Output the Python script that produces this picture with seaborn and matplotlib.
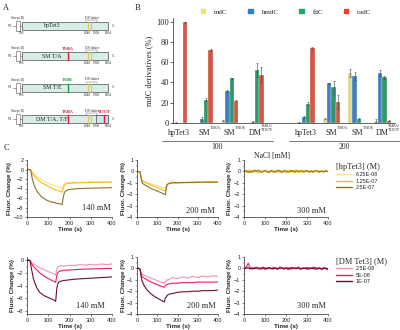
import numpy as np
import pandas as pd
import matplotlib
matplotlib.use('Agg')
import matplotlib.pyplot as plt
import matplotlib.transforms as mtransforms
from matplotlib.patches import Rectangle
from matplotlib.lines import Line2D
import seaborn as sns

# ---------------- data ----------------
# Panel A (construct schematics)
row_labels = ['hpTet3', 'SM T/A', 'SM T/E', 'DM T/A, T/F']
row_mutations = [[], [('T940A', 940)], [('T940E', 940)], [('T940A', 940), ('T1367F', 1367)]]
mut_colors = {'T940A': '#e0203a', 'T940E': '#1e9a4a', 'T1367F': '#e0203a'}
residue_marks = [696, 1040, 1308, 1604]

# Panel B (bar chart)
categories = ['hpTet3', 'SM', 'SM', 'DM']
superscripts = ['', 'T940A', 'T940E', 'T940A/\nT1367F']
salt_groups = ['100', '200']
derivatives = ['mdC', 'hmdC', 'fdC', 'cadC']
deriv_colors = ['#ece07c', '#2d7fd6', '#1fa86c', '#e8442c']
mdC_100 = [0.0, 0.0, 2.0, 0.0]
hmdC_100 = [0.3, 4.0, 32.0, 1.0]
fdC_100 = [0.0, 23.0, 44.0, 52.0]
cadC_100 = [99.2, 72.0, 22.0, 47.0]
mdC_200 = [0.5, 4.0, 49.0, 2.0]
hmdC_200 = [6.0, 39.0, 46.0, 49.0]
fdC_200 = [19.0, 35.0, 4.0, 45.0]
cadC_200 = [74.0, 21.0, 0.0, 2.0]
mdC_100_err = [0.0, 0.0, 0.5, 0.0]
hmdC_100_err = [0.5, 2.0, 1.0, 0.5]
fdC_100_err = [0.0, 1.5, 0.8, 7.0]
cadC_100_err = [0.8, 1.2, 0.8, 8.0]
mdC_200_err = [0.3, 0.5, 4.0, 1.5]
hmdC_200_err = [1.0, 0.5, 4.0, 3.0]
fdC_200_err = [1.5, 6.0, 0.5, 1.5]
cadC_200_err = [0.8, 7.0, 0.0, 0.5]

# Panel C (kinetic traces)
hp_conc = ['6.25E-08', '1.25E-07', '2.5E-07']
hp_colors = ['#fbe08e', '#f3be12', '#8a7329']
dm_conc = ['2.5E-08', '5E-08', '1E-07']
dm_colors = ['#f78fb3', '#e8205e', '#6a0f2e']

t_hp140 = [0, 10, 18, 25, 35, 50, 70, 90, 110, 130, 150, 165, 170, 175, 180, 190, 200, 220, 240, 260, 280, 300, 320, 340, 360, 380, 400]
hp140_low = [0, 0, -0.1, -0.6, -1.1, -1.6, -2.2, -2.7, -3.1, -3.4, -3.7, -3.9, -3.3, -3.0, -2.9, -2.75, -2.85, -2.6, -2.75, -2.6, -2.7, -2.55, -2.7, -2.5, -2.65, -2.5, -2.6]
hp140_mid = [0, 0, -0.1, -0.8, -1.4, -2.1, -2.8, -3.3, -3.8, -4.2, -4.5, -4.8, -4.0, -3.4, -3.1, -2.95, -2.9, -2.85, -2.8, -2.8, -2.75, -2.75, -2.7, -2.7, -2.7, -2.65, -2.7]
hp140_high = [0, 0, -0.2, -2.0, -3.5, -4.8, -5.8, -6.4, -6.8, -7.0, -7.2, -7.35, -6.0, -5.0, -4.6, -4.35, -4.2, -4.1, -4.05, -4.0, -3.95, -3.95, -3.9, -3.9, -3.85, -3.85, -3.8]

t_hp200 = [0, 10, 15, 20, 25, 35, 50, 70, 90, 110, 130, 140, 145, 150, 160, 175, 200, 225, 250, 275, 300, 325, 350, 375, 400]
hp200_low = [0.0, -0.05, 0.0, -0.5, -0.75, -0.85, -0.95, -1.1, -1.2, -1.3, -1.45, -1.5, -1.2, -1.1, -1.05, -0.8, -1.0, -0.95, -1.05, -0.85, -0.95, -1.0, -0.85, -0.95, -0.9]
hp200_mid = [0.0, 0.0, -0.05, -0.55, -0.85, -0.95, -1.05, -1.2, -1.35, -1.5, -1.65, -1.72, -1.3, -1.12, -1.05, -1.0, -1.0, -1.0, -0.95, -1.0, -0.95, -0.95, -0.95, -0.9, -0.95]
hp200_high = [0.0, -0.05, -0.05, -0.6, -1.0, -1.15, -1.3, -1.5, -1.65, -1.8, -1.95, -2.05, -1.4, -1.15, -1.05, -1.0, -1.0, -0.98, -0.97, -0.96, -0.95, -0.95, -0.95, -0.95, -0.95]

t_300 = [0, 10, 20, 30, 40, 50, 60, 70, 80, 90, 100, 110, 120, 130, 140, 150, 160, 170, 180, 190, 200,
         210, 220, 230, 240, 250, 260, 270, 280, 290, 300, 310, 320, 330, 340, 350, 360, 370, 380, 390, 400]
hp300_low = [0.05, 0.12, -0.05, 0.15, 0.02, -0.1, 0.1, 0.06, -0.06, 0.14, 0.0, -0.12, 0.08, -0.04, 0.12, 0.0, -0.14, 0.06, 0.1, -0.05, 0.02, 0.13, -0.08, 0.05, 0.0, -0.11, 0.1, 0.03, -0.06, 0.12, -0.02, 0.06, -0.1, 0.09, 0.0, -0.07, 0.11, -0.04, 0.06, 0.0, 0.04]
hp300_mid = [0.0, -0.08, 0.1, -0.12, 0.06, 0.14, -0.06, -0.15, 0.08, 0.0, 0.12, -0.08, -0.02, 0.1, -0.1, 0.06, 0.12, -0.08, 0.0, 0.1, -0.12, 0.04, 0.1, -0.06, 0.08, 0.12, -0.1, -0.02, 0.1, -0.08, 0.06, -0.12, 0.08, 0.0, 0.12, -0.06, -0.1, 0.08, -0.02, 0.1, -0.04]
hp300_high = [0.02, 0.06, -0.1, 0.04, -0.06, 0.08, 0.0, 0.1, -0.08, -0.04, 0.06, 0.02, -0.1, 0.06, 0.0, -0.06, 0.04, 0.08, -0.1, 0.02, 0.06, -0.06, 0.0, 0.08, -0.08, 0.04, 0.0, 0.06, -0.06, 0.02, 0.08, -0.04, 0.02, -0.08, 0.06, 0.04, -0.02, 0.0, -0.06, 0.04, -0.02]

t_dm140 = [0, 10, 15, 20, 30, 45, 60, 80, 100, 120, 130, 135, 140, 145, 150, 160, 175, 200, 225, 250, 275, 300, 325, 350, 375, 400]
dm140_low = [0, 0, -0.05, -0.3, -0.6, -0.9, -1.2, -1.5, -1.8, -2.1, -2.25, -2.35, -1.4, -1.1, -1.0, -0.85, -0.95, -0.8, -0.85, -0.7, -0.8, -0.65, -0.75, -0.6, -0.7, -0.6]
dm140_mid = [0, 0, -0.1, -0.5, -1.0, -1.5, -2.0, -2.5, -2.9, -3.25, -3.4, -3.5, -2.5, -2.0, -1.8, -1.7, -1.6, -1.55, -1.5, -1.45, -1.4, -1.4, -1.35, -1.35, -1.3, -1.3]
dm140_high = [0, 0, -0.2, -1.2, -2.9, -4.3, -5.1, -5.6, -5.9, -6.2, -6.35, -6.5, -4.5, -3.7, -3.45, -3.3, -3.2, -3.1, -3.0, -2.95, -2.9, -2.85, -2.8, -2.75, -2.7, -2.65]

t_dm200 = [0, 10, 15, 20, 25, 35, 50, 70, 90, 110, 125, 135, 140, 150, 160, 175, 200, 225, 250, 275, 300, 325, 350, 375, 400]
dm200_low = [0, 0, -0.05, -0.35, -0.5, -0.6, -0.7, -0.85, -1.0, -1.15, -1.25, -1.3, -1.15, -1.0, -0.95, -0.8, -0.9, -0.75, -0.85, -0.7, -0.8, -0.65, -0.75, -0.65, -0.7]
dm200_mid = [0, 0, -0.05, -0.45, -0.7, -0.85, -1.0, -1.2, -1.35, -1.5, -1.6, -1.65, -1.5, -1.4, -1.35, -1.3, -1.3, -1.25, -1.25, -1.25, -1.2, -1.2, -1.2, -1.2, -1.2]
dm200_high = [0, 0, -0.1, -0.7, -1.1, -1.5, -1.9, -2.25, -2.5, -2.7, -2.85, -2.95, -2.6, -2.35, -2.25, -2.2, -2.1, -2.05, -2.05, -2.0, -2.0, -1.95, -1.95, -1.95, -1.9]

dm300_low = [0.0, 0.05, 0.1, -0.05, 0.08, 0.0, -0.06, 0.1, 0.02, -0.08, 0.06, 0.1, -0.04, 0.04, -0.1, 0.08, 0.0, 0.06, -0.06, 0.1, -0.02, 0.04, 0.08, -0.08, 0.02, 0.1, -0.06, 0.04, 0.0, 0.08, -0.1, 0.06, 0.02, -0.04, 0.1, -0.08, 0.04, 0.0, -0.06, 0.08, -0.1]
dm300_mid = [0.0, 0.1, 0.45, 0.05, -0.08, 0.06, 0.1, -0.06, 0.04, 0.12, -0.1, 0.02, 0.08, -0.06, 0.1, 0.0, -0.08, 0.12, 0.04, -0.06, 0.08, -0.12, 0.06, 0.1, -0.04, 0.0, 0.12, -0.1, 0.06, -0.02, 0.1, -0.08, 0.04, 0.12, -0.1, 0.02, 0.06, -0.12, 0.08, -0.04, -0.14]
dm300_high = [0.0, 0.02, 0.05, -0.04, 0.04, -0.02, 0.06, 0.0, -0.06, 0.04, 0.02, -0.04, 0.06, 0.0, -0.02, 0.04, -0.06, 0.02, 0.06, -0.04, 0.0, 0.04, -0.06, 0.02, 0.04, -0.02, 0.06, -0.04, 0.0, 0.02, -0.06, 0.04, 0.0, -0.02, 0.06, -0.04, 0.02, -0.06, 0.04, 0.0, -0.04]

# ---------------- style ----------------
sns.set_theme(style='ticks')
SERIF = ['Liberation Serif', 'DejaVu Serif']
SANS = ['Liberation Sans', 'DejaVu Sans']
plt.rcParams['font.family'] = SERIF
plt.rcParams['axes.linewidth'] = 0.5

W, H = 400, 330
fig = plt.figure(figsize=(4, 3.3), dpi=100)


def ax_px(l, t, r, b):
    return fig.add_axes([l / W, 1 - b / H, (r - l) / W, (b - t) / H])


# ---------------- Panel A ----------------
axA = ax_px(0, 0, 135, 135)
axA.set_xlim(0, 135)
axA.set_ylim(135, 0)
axA.axis('off')
mark_x = [22, 87, 96, 108]
row_y = [26, 56, 87.5, 119]
for lab, muts, y in zip(row_labels, row_mutations, row_y):
    axA.plot([13, 16], [y, y], color='#555555', lw=0.4)
    axA.add_patch(Rectangle((16, y - 5), 4, 10, fc='white', ec='#555555', lw=0.4))
    axA.plot([20, 22], [y, y], color='#555555', lw=0.4)
    axA.add_patch(Rectangle((22, y - 4), 86, 8, fc='#d6ede8', ec='#4d4d4d', lw=0.5))
    if len(muts) > 1:
        axA.add_patch(Rectangle((96, y - 4), 12, 8, fc='#cde3ef', ec='#4d4d4d', lw=0.5))
    for lx in (88.3, 90.7):
        axA.plot([lx, lx], [y - 4, y + 4], color='#e3c65c', lw=0.9)
    axA.text(9.5, y, 'N', fontsize=3.2, ha='center', va='center')
    axA.text(113.5, y, 'C', fontsize=3.2, ha='center', va='center')
    axA.text(52, y, lab, fontsize=4.3, ha='center', va='center')
    for r, x in zip(residue_marks, mark_x):
        axA.text(x, y + 7, str(r), fontsize=2.6, ha='center', va='center')
    axA.text(18, y - 8, 'Strep (II)', fontsize=2.6, ha='center', va='center')
    axA.plot([86, 86, 97, 97], [y - 4.5, y - 6, y - 6, y - 4.5], color='#555555', lw=0.3)
    axA.text(92, y - 8, 'DS linker', fontsize=2.6, ha='center', va='center')
    for name, res in muts:
        x = np.interp(res, residue_marks, mark_x)
        if res > 1308:
            x = x + 6
        axA.plot([x, x], [y - 4, y + 4], color=mut_colors[name], lw=1.0)
        axA.text(x, y - 7.5, name, fontsize=3.0, color=mut_colors[name],
                 ha='center', va='center', fontweight='bold')

# ---------------- Panel B ----------------
axB = ax_px(173, 18, 395, 123)
vals = {('mdC', '100'): mdC_100, ('hmdC', '100'): hmdC_100, ('fdC', '100'): fdC_100, ('cadC', '100'): cadC_100,
        ('mdC', '200'): mdC_200, ('hmdC', '200'): hmdC_200, ('fdC', '200'): fdC_200, ('cadC', '200'): cadC_200}
errs = {('mdC', '100'): mdC_100_err, ('hmdC', '100'): hmdC_100_err, ('fdC', '100'): fdC_100_err, ('cadC', '100'): cadC_100_err,
        ('mdC', '200'): mdC_200_err, ('hmdC', '200'): hmdC_200_err, ('fdC', '200'): fdC_200_err, ('cadC', '200'): cadC_200_err}
rows = []
for gi, g in enumerate(salt_groups):
    for ci in range(len(categories)):
        for d in derivatives:
            rows.append(dict(pos=gi * 5 + ci, deriv=d, val=vals[(d, g)][ci], err=errs[(d, g)][ci]))
dfB = pd.DataFrame(rows)
sns.barplot(data=dfB, x='pos', y='val', hue='deriv', hue_order=derivatives, palette=deriv_colors,
            native_scale=True, width=0.68, errorbar=None, ax=axB, legend=False,
            edgecolor='white', linewidth=0.2)
bw = 0.17
for j, d in enumerate(derivatives):
    sub = dfB[(dfB.deriv == d) & (dfB.err > 0)]
    axB.errorbar(sub.pos + (j - 1.5) * bw, sub.val, yerr=sub.err, fmt='none',
                 ecolor='#444444', elinewidth=0.4, capsize=0.8, capthick=0.4)
axB.set_xlim(-0.22, 8.5)
axB.set_ylim(0, 103.5)
axB.set_yticks([0, 20, 40, 60, 80, 100])
xt = [gi * 5 + ci for gi in range(2) for ci in range(4)]
axB.set_xticks(xt)
axB.set_xticklabels(categories * 2, fontsize=5.8)
axB.tick_params(axis='x', length=0, pad=4)
axB.tick_params(axis='y', labelsize=6, length=2, width=0.5, pad=1)
axB.set_xlabel('')
axB.set_ylabel('mdC derivatives (%)', fontsize=6, labelpad=2)
sns.despine(ax=axB)
trB = mtransforms.blended_transform_factory(axB.transData, axB.transAxes)
for x, s in zip(xt, superscripts * 2):
    if s:
        if '\n' in s:
            axB.text(x + 0.22, -0.05, s, fontsize=2.8, transform=trB, ha='left', va='center', linespacing=1.0)
        else:
            axB.text(x + 0.22, -0.045, s, fontsize=3.0, transform=trB, ha='left', va='center')
for gi, g in enumerate(salt_groups):
    x0, x1 = gi * 5 - 0.65, gi * 5 + 3.7
    axB.plot([x0, x1], [-0.17, -0.17], transform=trB, color='#444444', lw=0.5, clip_on=False)
    axB.text((x0 + x1) / 2, -0.23, g, fontsize=5.5, transform=trB, ha='center', va='center')
axB.text(3.68, -0.315, 'NaCl [mM]', fontsize=5.5, transform=trB, ha='center', va='center')
handles = [Rectangle((0, 0), 1, 1, fc=c, ec=c) for c in deriv_colors]
axB.legend(handles, derivatives, ncol=4, loc='center', bbox_to_anchor=(0.51, 1.06), frameon=False,
           fontsize=5, handlelength=0.6, handleheight=0.6, columnspacing=3.0, handletextpad=1.3,
           borderaxespad=0, borderpad=0)

# ---------------- Panel C ----------------
def trace_panel(box, t, series, concs, colors, ylim, yticks, minor, label, tx, ty):
    ax = ax_px(*box)
    rows = []
    for c, s in zip(concs, series):
        for ti, yi in zip(t, s):
            rows.append(dict(t=ti, y=yi, conc=c))
    df = pd.DataFrame(rows)
    sns.lineplot(data=df, x='t', y='y', hue='conc', hue_order=concs, palette=colors,
                 ax=ax, legend=False, linewidth=0.8, errorbar=None)
    ax.set_xlim(0, 400)
    ax.set_ylim(*ylim)
    ax.set_xticks([0, 100, 200, 300, 400])
    ax.set_xticks(np.arange(0, 401, 50), minor=True)
    ax.set_yticks(yticks)
    ax.set_yticks(minor, minor=True)
    ax.tick_params(which='major', labelsize=4, length=1.6, width=0.4, pad=1)
    ax.tick_params(which='minor', length=1.0, width=0.3)
    for lab in ax.get_xticklabels() + ax.get_yticklabels():
        lab.set_fontfamily(SANS)
    ax.set_xlabel('Time (s)', fontsize=4.5, fontweight='bold', family=SANS, labelpad=1)
    ax.set_ylabel('Fluor. Change (%)', fontsize=4.5, fontweight='bold', family=SANS, labelpad=1)
    sns.despine(ax=ax)
    ax.text(tx, ty, label, fontsize=6, transform=ax.transAxes, ha='center', va='center')
    return ax


trace_panel((27, 160, 112, 217), t_hp140, [hp140_low, hp140_mid, hp140_high], hp_conc, hp_colors,
            (-10, 2), [-10, -8, -6, -4, -2, 0, 2], np.arange(-10, 2.1, 1), '140 mM', 0.82, 0.16)
trace_panel((137, 160, 218, 217), t_hp200, [hp200_low, hp200_mid, hp200_high], hp_conc, hp_colors,
            (-4, 1), [-4, -3, -2, -1, 0, 1], np.arange(-4, 1.01, 0.5), '200 mM', 0.78, 0.1)
trace_panel((244, 160, 328, 217), t_300, [hp300_low, hp300_mid, hp300_high], hp_conc, hp_colors,
            (-4, 1), [-4, -3, -2, -1, 0, 1], np.arange(-4, 1.01, 0.5), '300 mM', 0.8, 0.1)
trace_panel((27, 257, 112, 314), t_dm140, [dm140_low, dm140_mid, dm140_high], dm_conc, dm_colors,
            (-8.5, 0.5), [-8, -6, -4, -2, 0], np.arange(-8, 0.1, 1), '140 mM', 0.75, 0.14)
trace_panel((137, 257, 218, 314), t_dm200, [dm200_low, dm200_mid, dm200_high], dm_conc, dm_colors,
            (-4, 1), [-4, -3, -2, -1, 0, 1], np.arange(-4, 1.01, 0.5), '200 mM', 0.8, 0.14)
trace_panel((244, 257, 328, 314), t_300, [dm300_low, dm300_mid, dm300_high], dm_conc, dm_colors,
            (-4, 1), [-4, -3, -2, -1, 0, 1], np.arange(-4, 1.01, 0.5), '300 mM', 0.8, 0.14)


def add_legend(title, concs, colors, top_px):
    hs = [Line2D([0], [0], color=c, lw=1.0) for c in colors]
    leg = fig.legend(hs, concs, loc='upper left', bbox_to_anchor=(336 / W, 1 - top_px / H),
                     frameon=False, fontsize=4, title=title, title_fontsize=6,
                     handlelength=2.8, handletextpad=0.8, labelspacing=0.25,
                     borderaxespad=0, borderpad=0)
    leg._legend_box.align = 'left'
    for tx in leg.get_texts():
        tx.set_fontfamily(SANS)


add_legend('[hpTet3] (M)', hp_conc, hp_colors, 163)
add_legend('[DM Tet3] (M)', dm_conc, dm_colors, 257)

fig.text(6 / W, 1 - 8 / H, 'A', fontsize=6, ha='center', va='center')
fig.text(138 / W, 1 - 8 / H, 'B', fontsize=6, ha='center', va='center')
fig.text(6 / W, 1 - 148 / H, 'C', fontsize=6, ha='center', va='center')

fig.savefig('out.png', dpi=100)
